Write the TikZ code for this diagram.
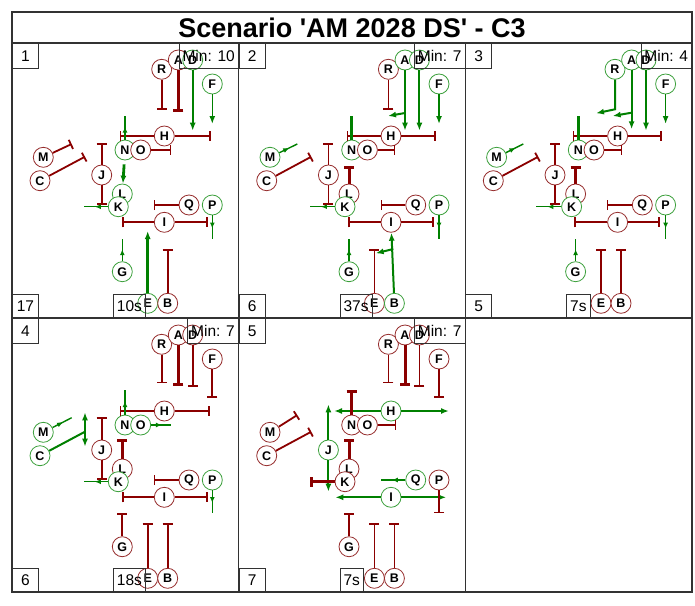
\documentclass[tikz,border=0pt]{standalone}
\usepackage{fontspec}
\setmainfont{Liberation Sans}[Ligatures=TeXOff]
\usetikzlibrary{arrows.meta,decorations.markings}
\definecolor{rd}{RGB}{139,0,0}
\definecolor{gn}{RGB}{0,128,0}
\definecolor{rdc}{RGB}{150,45,45}
\definecolor{gnc}{RGB}{60,160,60}
\definecolor{frm}{RGB}{50,50,50}
% shared node positions (relative to panel top-left, px)
\def\pxR{149.7}\def\pyR{26.3}
\def\pxA{166.3}\def\pyA{17}
\def\pxD{180.7}\def\pyD{17}
\def\pxF{200.3}\def\pyF{41}
\def\pxH{152.3}\def\pyH{93}
\def\pxN{113}\def\pyN{107}
\def\pxO{128.7}\def\pyO{107}
\def\pxM{31.3}\def\pyM{114.3}
\def\pxC{28}\def\pyC{137.7}
\def\pxJ{89.7}\def\pyJ{132}
\def\pxL{110.3}\def\pyL{151}
\def\pxK{106.3}\def\pyK{163.7}
\def\pxQ{177}\def\pyQ{162}
\def\pxP{200.3}\def\pyP{162}
\def\pxI{152.3}\def\pyI{179.3}
\def\pxG{110.3}\def\pyG{228.7}
\def\pxE{135.7}\def\pyE{260.3}
\def\pxB{155.7}\def\pyB{260.3}
\newcommand\nd[2]{\edef\ndx{\csname px#1\endcsname}\edef\ndy{\csname py#1\endcsname}\node[nd#2] (\pp#1) at (\ndx,\ndy) {#1};}
\newcommand\ce[3]{\coordinate (\pp#1) at (#2,#3);}
\newcommand\plabels[4]{%
 \node[lbl,anchor=north west,minimum width=26pt,minimum height=25pt] (\pp-num) at (0,0) {#1};
 \node[lbl,anchor=north east,minimum height=25pt] (\pp-min) at (226.7,0) {#2};
 \node[lbl,anchor=south west,minimum width=26pt,minimum height=23pt] (\pp-cnt) at (0,\ph) {#3};
 \node[lbl,anchor=south west,minimum height=23pt] (\pp-tim) at (101,\ph) {#4};}
\tikzset{
 ndr/.style={circle,draw=rdc,fill=white,line width=0.8pt,minimum size=20pt,inner sep=0pt,font=\fontsize{12.5}{13}\selectfont\bfseries},
 ndg/.style={ndr,draw=gnc},
 lbl/.style={draw=frm,line width=0.8pt,inner xsep=3.5pt,inner ysep=0pt,font=\fontsize{15.5}{16}\selectfont},
 frame/.style={draw=frm,line width=1.2pt},
 inh/.style={draw=rd,line width=1.8pt,-{Bar[width=10pt]}},
 inhk/.style={inh,line width=3pt},
 inht/.style={inh,line width=1.4pt},
 inhr/.style={inh,line width=2.2pt},
 act/.style={draw=gn,line width=2pt,-{Latex[length=8pt,width=6pt]}},
 actk/.style={act,line width=2.8pt},
 actf/.style={act,line width=1.5pt},
 actm/.style={draw=gn,line width=1.4pt,postaction={decorate,decoration={markings,mark=at position 0.55 with {\arrow{Latex[length=6pt,width=5pt]}}}}},
 gline/.style={draw=gn,line width=2.8pt},
}
\begin{document}
\begin{tikzpicture}[x=1pt,y=-1pt]
\useasboundingbox (0,0) rectangle (695,605);
\fill[white] (0,0) rectangle (695,605);
\draw[frame] (12,12) rectangle (692,592);
\draw[frame] (12,43) -- (692,43);
\draw[frame] (12,318) -- (692,318);
\draw[frame] (238.7,43) -- (238.7,592);
\draw[frame] (465.3,43) -- (465.3,592);
\node[font=\fontsize{27}{30}\selectfont\bfseries] (title) at (352,28) {Scenario 'AM 2028 DS' - C3};

% ---------------- Panel 1 ----------------
\def\pp{a}\def\ph{275}
\begin{scope}[shift={(12,43)}]
\nd{R}{r}\nd{A}{r}\nd{D}{g}\nd{F}{g}\nd{H}{r}\nd{N}{g}\nd{O}{r}\nd{M}{r}\nd{C}{r}
\nd{J}{r}\nd{L}{g}\nd{K}{g}\nd{Q}{r}\nd{P}{g}\nd{I}{r}\nd{G}{g}\nd{E}{g}\nd{B}{r}
\ce{R1}{\pxR}{67}\ce{A1}{\pxA}{68.7}\ce{D1}{\pxD}{87.7}\ce{F1}{\pxF}{81}
\ce{Hl}{108}{\pyH}\ce{Hr}{198.7}{\pyH}\ce{Nu}{\pxN}{73}\ce{O1}{159}{\pyO}
\ce{M1}{59.7}{101}\ce{C1}{73}{113.7}\ce{Ju}{\pxJ}{100.3}\ce{Jd}{\pxJ}{162}
\ce{Kl}{72}{\pyK}\ce{Il}{110.3}{\pyI}\ce{Ir}{196.3}{\pyI}\ce{Q1}{142}{\pyQ}
\ce{P1}{\pxP}{196.3}\ce{G1}{\pxG}{196.3}\ce{E1}{\pxE}{188}\ce{B1}{\pxB}{206.3}
\draw[inh] (aR) -- (aR1);
\draw[inhk] (aA) -- (aA1);
\draw[act] (aD) -- (aD1);
\draw[actf] (aF) -- (aF1);
\draw[inht] (aH) -- (aHl);
\draw[inhr] (aH) -- (aHr);
\draw[actm] (aN) -- (aNu);
\draw[actk,shorten <=4pt] (aN) -- (aL);
\draw[inht] (aO) -- (aO1);
\draw[inh] (aM) -- (aM1);
\draw[inh] (aC) -- (aC1);
\draw[inh] (aJ) -- (aJu);
\draw[inh] (aJ) -- (aJd);
\draw[actm] (aK) -- (aKl);
\draw[inh] (aI) -- (aIl);
\draw[inhr] (aI) -- (aIr);
\draw[inht] (aQ) -- (aQ1);
\draw[actm] (aP) -- (aP1);
\draw[actm] (aG) -- (aG1);
\draw[actk] (aE) -- (aE1);
\draw[inh] (aB) -- (aB1);
\plabels{1}{Min: 10}{17}{10s}
\end{scope}

% ---------------- Panel 2 ----------------
\def\pp{b}\def\ph{275}
\begin{scope}[shift={(238.7,43)}]
\nd{R}{r}\nd{A}{g}\nd{D}{g}\nd{F}{g}\nd{H}{r}\nd{N}{g}\nd{O}{r}\nd{M}{g}\nd{C}{r}
\nd{J}{r}\nd{L}{r}\nd{K}{g}\nd{Q}{r}\nd{P}{g}\nd{I}{r}\nd{G}{g}\nd{E}{r}\nd{B}{g}
\ce{R1}{\pxR}{67}\ce{A1}{\pxA}{87.7}\ce{Ab}{\pxA}{70}\ce{Ab2}{149.3}{73}
\ce{D1}{\pxD}{87.7}\ce{F1}{\pxF}{81}
\ce{Hl}{108.3}{\pyH}\ce{Hr}{197.6}{\pyH}\ce{Nu}{\pxN}{73}\ce{O1}{156.7}{\pyO}
\ce{M1}{58.6}{101}\ce{C1}{72.6}{113.7}\ce{Ju}{\pxJ}{100.3}\ce{Jd}{\pxJ}{162}
\ce{Lu}{\pxL}{123}\ce{Kl}{71}{\pyK}\ce{Il}{109.3}{\pyI}\ce{Ir}{195}{\pyI}
\ce{Q1}{142}{\pyQ}\ce{P1}{\pxP}{196.3}\ce{G1}{\pxG}{196.3}\ce{E1}{\pxE}{206}
\ce{Bb}{154.6}{206}\ce{Bb2}{137}{210.3}
\draw[inh] (bR) -- (bR1);
\draw[act] (bA) -- (bA1);
\draw[act] (bAb) -- (bAb2);
\draw[act] (bD) -- (bD1);
\draw[actf] (bF) -- (bF1);
\draw[inht] (bH) -- (bHl);
\draw[inhr] (bH) -- (bHr);
\draw[gline] (bN) -- (bNu);
\draw[inht] (bO) -- (bO1);
\draw[actm] (bM) -- (bM1);
\draw[inh] (bC) -- (bC1);
\draw[inh] (bJ) -- (bJu);
\draw[inh] (bJ) -- (bJd);
\draw[inhk] (bL) -- (bLu);
\draw[actm] (bK) -- (bKl);
\draw[inh] (bI) -- (bIl);
\draw[inhr] (bI) -- (bIr);
\draw[inht] (bQ) -- (bQ1);
\draw[actm] (bP) -- (bP1);
\draw[actm] (bG) -- (bG1);
\draw[inh] (bE) -- (bE1);
\draw[act] (bB) -- (bI);
\draw[act] (bBb) -- (bBb2);
\plabels{2}{Min: 7}{6}{37s}
\end{scope}

% ---------------- Panel 3 ----------------
\def\pp{c}\def\ph{275}
\begin{scope}[shift={(465.3,43)}]
\nd{R}{g}\nd{A}{g}\nd{D}{g}\nd{F}{g}\nd{H}{r}\nd{N}{g}\nd{O}{r}\nd{M}{g}\nd{C}{r}
\nd{J}{r}\nd{L}{r}\nd{K}{g}\nd{Q}{r}\nd{P}{g}\nd{I}{r}\nd{G}{g}\nd{E}{r}\nd{B}{r}
\ce{R1}{\pxR}{66.3}\ce{R2}{130.7}{70.3}
\ce{A1}{\pxA}{86.3}\ce{Ab}{\pxA}{69.7}\ce{Ab2}{147.4}{73}
\ce{D1}{\pxD}{87.7}\ce{F1}{\pxF}{81}
\ce{Hl}{107.4}{\pyH}\ce{Hr}{196.4}{\pyH}\ce{Nu}{\pxN}{73}\ce{O1}{157}{\pyO}
\ce{M1}{58}{101}\ce{C1}{73}{113.7}\ce{Ju}{\pxJ}{100.3}\ce{Jd}{\pxJ}{162}
\ce{Lu}{\pxL}{123}\ce{Kl}{70.7}{\pyK}\ce{Il}{109}{\pyI}\ce{Ir}{194.7}{\pyI}
\ce{Q1}{141.4}{\pyQ}\ce{P1}{\pxP}{196.3}\ce{G1}{\pxG}{196.3}
\ce{E1}{\pxE}{206}\ce{B1}{\pxB}{206.3}
\draw[act] (cR) -- (cR1) -- (cR2);
\draw[act] (cA) -- (cA1);
\draw[act] (cAb) -- (cAb2);
\draw[act] (cD) -- (cD1);
\draw[actf] (cF) -- (cF1);
\draw[inht] (cH) -- (cHl);
\draw[inhr] (cH) -- (cHr);
\draw[gline] (cN) -- (cNu);
\draw[inht] (cO) -- (cO1);
\draw[actm] (cM) -- (cM1);
\draw[inh] (cC) -- (cC1);
\draw[inh] (cJ) -- (cJu);
\draw[inh] (cJ) -- (cJd);
\draw[inhk] (cL) -- (cLu);
\draw[actm] (cK) -- (cKl);
\draw[inh] (cI) -- (cIl);
\draw[inhr] (cI) -- (cIr);
\draw[inht] (cQ) -- (cQ1);
\draw[actm] (cP) -- (cP1);
\draw[actm] (cG) -- (cG1);
\draw[inh] (cE) -- (cE1);
\draw[inh] (cB) -- (cB1);
\plabels{3}{Min: 4}{5}{7s}
\end{scope}

% ---------------- Panel 4 ----------------
\def\pp{d}\def\ph{274}
\begin{scope}[shift={(12,318)}]
\nd{R}{r}\nd{A}{r}\nd{D}{r}\nd{F}{r}\nd{H}{r}\nd{N}{g}\nd{O}{g}\nd{M}{g}\nd{C}{g}
\nd{J}{r}\nd{L}{r}\nd{K}{g}\nd{Q}{r}\nd{P}{g}\nd{I}{r}\nd{G}{r}\nd{E}{r}\nd{B}{r}
\ce{R1}{\pxR}{65.3}\ce{A1}{\pxA}{68}\ce{D1}{\pxD}{68.7}\ce{F1}{\pxF}{79.7}
\ce{Hl}{108}{\pyH}\ce{Hr}{198}{\pyH}\ce{Nu}{\pxN}{72}\ce{O1}{158.7}{\pyO}
\ce{M1}{59.7}{99.7}\ce{C1}{73}{113.7}\ce{Cu}{73}{94.3}\ce{Cd}{73}{128.7}
\ce{Ju}{\pxJ}{98.7}\ce{Jd}{\pxJ}{162}\ce{Lu}{\pxL}{121}\ce{Kl}{72}{\pyK}
\ce{Il}{110.3}{\pyI}\ce{Ir}{196.3}{\pyI}\ce{Q1}{142}{\pyQ}\ce{P1}{\pxP}{195.3}
\ce{G1}{\pxG}{194.7}\ce{E1}{\pxE}{204.7}\ce{B1}{\pxB}{205.3}
\draw[inh] (dR) -- (dR1);
\draw[inhk] (dA) -- (dA1);
\draw[inh] (dD) -- (dD1);
\draw[inh] (dF) -- (dF1);
\draw[inht] (dH) -- (dHl);
\draw[inhr] (dH) -- (dHr);
\draw[actm] (dN) -- (dNu);
\draw[actm] (dO) -- (dO1);
\draw[actm] (dM) -- (dM1);
\draw[draw=gn,line width=2pt] (dC) -- (dC1);
\draw[actk] (dC1) -- (dCu);
\draw[actk] (dC1) -- (dCd);
\draw[inh] (dJ) -- (dJu);
\draw[inh] (dJ) -- (dJd);
\draw[inhk] (dL) -- (dLu);
\draw[actm] (dK) -- (dKl);
\draw[inh] (dI) -- (dIl);
\draw[inhr] (dI) -- (dIr);
\draw[inht] (dQ) -- (dQ1);
\draw[actm] (dP) -- (dP1);
\draw[inh] (dG) -- (dG1);
\draw[inh] (dE) -- (dE1);
\draw[inh] (dB) -- (dB1);
\plabels{4}{Min: 7}{6}{18s}
\end{scope}

% ---------------- Panel 5 ----------------
\def\pp{e}\def\ph{274}
\begin{scope}[shift={(238.7,318)}]
\nd{R}{r}\nd{A}{r}\nd{D}{r}\nd{F}{r}\nd{H}{g}\nd{N}{r}\nd{O}{r}\nd{M}{r}\nd{C}{r}
\nd{J}{g}\nd{L}{r}\nd{K}{r}\nd{Q}{g}\nd{P}{r}\nd{I}{g}\nd{G}{r}\nd{E}{r}\nd{B}{r}
\ce{R1}{\pxR}{65.3}\ce{A1}{\pxA}{68}\ce{D1}{\pxD}{68.7}\ce{F1}{\pxF}{79.7}
\ce{Hl}{95.3}{\pyH}\ce{Hr}{210.3}{\pyH}\ce{Nu}{\pxN}{72}\ce{O1}{157.6}{\pyO}
\ce{M1}{58.6}{97}\ce{C1}{72.6}{113.7}\ce{Ju}{\pxJ}{86.3}\ce{Jd}{\pxJ}{173.7}
\ce{Lu}{\pxL}{121}\ce{Kl}{71}{\pyK}\ce{Il}{96.6}{\pyI}\ce{Ir}{207.6}{\pyI}
\ce{Q1}{142}{\pyQ}\ce{P1}{\pxP}{195.3}\ce{G1}{\pxG}{194.7}
\ce{E1}{\pxE}{204.7}\ce{B1}{\pxB}{205.3}
\draw[inh] (eR) -- (eR1);
\draw[inhk] (eA) -- (eA1);
\draw[inh] (eD) -- (eD1);
\draw[inh] (eF) -- (eF1);
\draw[act] (eH) -- (eHl);
\draw[act] (eH) -- (eHr);
\draw[inhk] (eN) -- (eNu);
\draw[inht] (eO) -- (eO1);
\draw[inh] (eM) -- (eM1);
\draw[inh] (eC) -- (eC1);
\draw[act] (eJ) -- (eJu);
\draw[act] (eJ) -- (eJd);
\draw[inhk] (eL) -- (eLu);
\draw[inhk] (eK) -- (eKl);
\draw[act] (eI) -- (eIl);
\draw[act] (eI) -- (eIr);
\draw[actm] (eQ) -- (eQ1);
\draw[inh] (eP) -- (eP1);
\draw[inh] (eG) -- (eG1);
\draw[inh] (eE) -- (eE1);
\draw[inh] (eB) -- (eB1);
\plabels{5}{Min: 7}{7}{7s}
\end{scope}
\end{tikzpicture}
\end{document}
